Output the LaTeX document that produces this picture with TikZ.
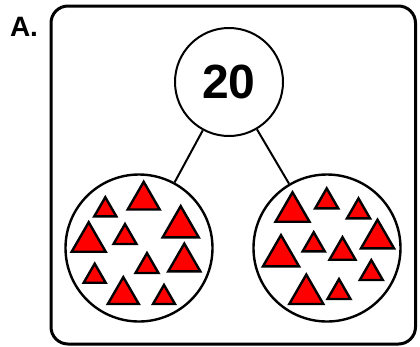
\documentclass[tikz,border=0pt]{standalone}
\usepackage{fontspec}
\setmainfont{Liberation Sans}
\usepackage{tikz}
\usetikzlibrary{positioning}

\begin{document}
\begin{tikzpicture}[x=1pt, y=-1pt,
    circ/.style={circle, draw=black, line width=2pt, inner sep=0pt, fill=white},
    bigcirc/.style={circ, minimum size=147pt, line width=2.4pt},
    tri/.style={draw=black, fill=red, line width=2.4pt},
    ln/.style={draw=black, line width=2pt}
]
\useasboundingbox (0,0) rectangle (420,346);
\draw[line width=3pt, rounded corners=17pt] (51,6) rectangle (415.5,344);
\node[font=\fontsize{28}{30}\selectfont\bfseries] (lab) at (24,27) {A.};
\node[circ, minimum size=108pt, font=\fontsize{48}{50}\selectfont\bfseries] (top) at (229,82) {20};
\node[bigcirc] (left) at (139,248) {};
\node[bigcirc] (right) at (327,248) {};
\draw[ln] (top) -- (left);
\draw[ln] (top) -- (right);
% triangles, left group
\foreach \cx/\by/\w in {143.7/209.5/32, 105.3/216.3/22, 180.7/237.3/36,
    88.7/251.7/34, 125/244/23, 184.3/271.3/32, 147/273/23,
    94.7/282.7/22, 123.3/304/31, 164/304/22}
  \draw[tri] (\cx-\w/2,\by) -- ++(\w,0) -- (\cx,\by-0.866*\w) -- cycle;
% triangles, right group
\foreach \cx/\by/\w in {292.5/221.7/34, 326.7/208.3/23, 358.5/218.3/23,
    377.5/248.3/33, 281/266.3/36, 313.7/251.3/22, 342.5/259.7/26,
    371.3/280/23, 306.3/304/34, 339/299/23}
  \draw[tri] (\cx-\w/2,\by) -- ++(\w,0) -- (\cx,\by-0.866*\w) -- cycle;
\end{tikzpicture}
\end{document}
